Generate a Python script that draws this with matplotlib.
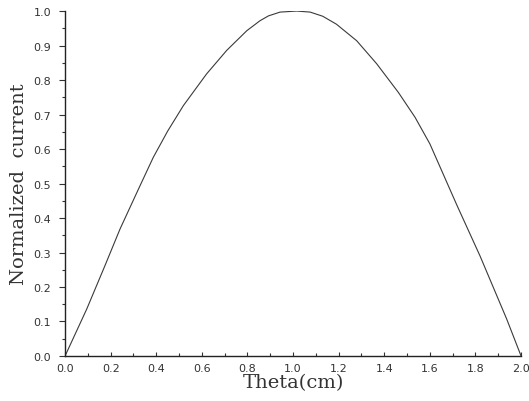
import matplotlib
matplotlib.use("Agg")
import matplotlib.pyplot as plt
from matplotlib.ticker import MultipleLocator, FormatStrFormatter

theta = [0.0, 0.095, 0.175, 0.241, 0.322, 0.387, 0.45, 0.519, 0.621, 0.709,
         0.797, 0.855, 0.892, 0.943, 1.016, 1.075, 1.13, 1.19, 1.279, 1.367,
         1.462, 1.535, 1.60, 1.718, 1.82, 1.937, 2.0]
current = [0.0, 0.136, 0.262, 0.368, 0.484, 0.576, 0.652, 0.726, 0.818, 0.886,
           0.943, 0.972, 0.986, 0.997, 1.0, 0.997, 0.985, 0.962, 0.914, 0.847,
           0.764, 0.692, 0.615, 0.438, 0.29, 0.107, 0.0]

fig = plt.figure(figsize=(5.29, 4.02), dpi=100)
ax = fig.add_axes([0.123, 0.112, 0.862, 0.858])
ax.plot(theta, current, color="#3a3a3a", linewidth=0.8)
ax.set_xlim(0, 2.0)
ax.set_ylim(0, 1.0)
ax.spines["top"].set_visible(False)
ax.spines["right"].set_visible(False)
for s in ("left", "bottom"):
    ax.spines[s].set_linewidth(1.0)
    ax.spines[s].set_color("#222222")
ax.xaxis.set_major_locator(MultipleLocator(0.2))
ax.xaxis.set_minor_locator(MultipleLocator(0.1))
ax.yaxis.set_major_locator(MultipleLocator(0.1))
ax.yaxis.set_minor_locator(MultipleLocator(0.05))
ax.xaxis.set_major_formatter(FormatStrFormatter("%.1f"))
ax.yaxis.set_major_formatter(FormatStrFormatter("%.1f"))
ax.tick_params(axis="y", which="major", direction="out", length=4, width=0.8,
               labelsize=8, colors="#333333", pad=6)
ax.tick_params(axis="y", which="minor", direction="out", length=2, width=0.8, colors="#333333")
ax.tick_params(axis="x", which="major", direction="in", length=3, width=0.8,
               labelsize=8, colors="#333333", pad=5)
ax.tick_params(axis="x", which="minor", direction="in", length=2, width=0.8, colors="#333333")
ax.set_xlabel("Theta(cm)", fontsize=14, family="DejaVu Serif", color="#333333", labelpad=0)
ax.set_ylabel("Normalized  current", fontsize=14, family="DejaVu Serif", color="#333333", labelpad=4)
fig.savefig("out.png", dpi=100)
